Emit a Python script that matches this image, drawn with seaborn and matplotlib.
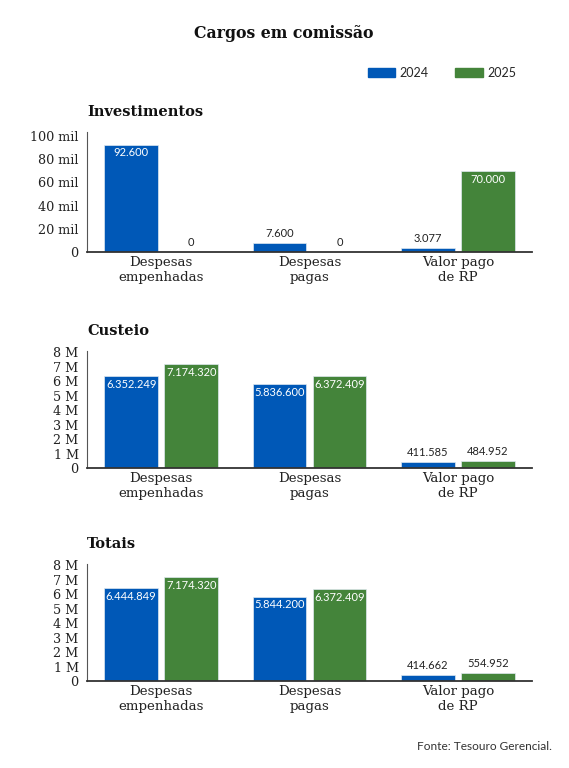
import matplotlib
matplotlib.use("Agg")
import matplotlib.pyplot as plt
from matplotlib.patches import Patch
from matplotlib.ticker import FixedLocator, FixedFormatter
import seaborn as sns
import pandas as pd

# ---------------- data ----------------
categories = ["Despesas\nempenhadas", "Despesas\npagas", "Valor pago\nde RP"]
years = ["2024", "2025"]

invest_2024 = [92600, 7600, 3077]
invest_2025 = [0, 0, 70000]
custeio_2024 = [6352249, 5836600, 411585]
custeio_2025 = [7174320, 6372409, 484952]
totais_2024 = [6444849, 5844200, 414662]
totais_2025 = [7174320, 6372409, 554952]

invest_ticks = [0, 20000, 40000, 60000, 80000, 100000]
invest_ticklabels = ["0", "20 mil", "40 mil", "60 mil", "80 mil", "100 mil"]
m_ticks = [0, 1e6, 2e6, 3e6, 4e6, 5e6, 6e6, 7e6, 8e6]
m_ticklabels = ["0", "1 M", "2 M", "3 M", "4 M", "5 M", "6 M", "7 M", "8 M"]

title = "Cargos em comissão"
panel_titles = ["Investimentos", "Custeio", "Totais"]
source = "Fonte: Tesouro Gerencial."

BLUE = "#0058B7"
GREEN = "#44843A"
DARK = "#222222"

sns.set_theme(style="white")
plt.rcParams["font.family"] = ["DejaVu Serif"]

W, H = 569, 768
fig = plt.figure(figsize=(W / 100, H / 100), dpi=100)
fig.patch.set_facecolor("white")


def fmt(v):
    return f"{int(v):,}".replace(",", ".")


def px_axes(left, top, right, bottom):
    return fig.add_axes([left / W, 1 - bottom / H, (right - left) / W, (bottom - top) / H])


panels = [
    (invest_2024, invest_2025, invest_ticks, invest_ticklabels, 103500, 132, 252),
    (custeio_2024, custeio_2025, m_ticks, m_ticklabels, 8.1e6, 351, 468),
    (totais_2024, totais_2025, m_ticks, m_ticklabels, 8.1e6, 564, 681),
]

for (v24, v25, ticks, tlabels, ymax, top, bottom), ptitle in zip(panels, panel_titles):
    ax = px_axes(87, top, 532, bottom)
    df = pd.DataFrame({
        "categoria": categories * 2,
        "ano": [years[0]] * 3 + [years[1]] * 3,
        "valor": list(v24) + list(v25),
    })
    sns.barplot(data=df, x="categoria", y="valor", hue="ano", order=categories,
                hue_order=years, palette=[BLUE, GREEN], width=0.81, gap=0.11,
                legend=False, ax=ax, edgecolor="#dfe8f0", linewidth=0.5, saturation=1)
    ax.set_xlim(-0.5, 2.5)
    ax.set_ylim(0, ymax)
    ax.yaxis.set_major_locator(FixedLocator(ticks))
    ax.yaxis.set_major_formatter(FixedFormatter(tlabels))
    ax.set_xlabel("")
    ax.set_ylabel("")
    for s in ["top", "right"]:
        ax.spines[s].set_visible(False)
    ax.spines["left"].set_color("#555555")
    ax.spines["left"].set_linewidth(0.8)
    ax.spines["bottom"].set_color("#333333")
    ax.spines["bottom"].set_linewidth(1.3)
    ax.tick_params(axis="y", direction="in", length=4, width=0.8, color="#555555",
                   labelsize=9.2, labelcolor=DARK, pad=6)
    ax.tick_params(axis="x", length=0, labelsize=9.6, labelcolor=DARK, pad=3)
    for lab in ax.get_xticklabels():
        lab.set_linespacing(1.2)
    ax.set_facecolor("white")
    ax.grid(False)

    for container, vals in zip(ax.containers, [v24, v25]):
        for bar, v in zip(container, vals):
            cx = bar.get_x() + bar.get_width() / 2
            h = bar.get_height()
            if v > 0.3 * ymax:
                ax.annotate(fmt(v), (cx, h), xytext=(0, -6), textcoords="offset points",
                            ha="center", va="center", color="white", fontsize=8,
                            family=["Lato", "DejaVu Sans"])
            else:
                ax.annotate(fmt(v), (cx, h), xytext=(0, 7), textcoords="offset points",
                            ha="center", va="center", color=DARK, fontsize=8,
                            family=["Lato", "DejaVu Sans"])

    fig.text(87 / W, 1 - (top - 20) / H, ptitle, ha="left", va="center",
             fontsize=10.5, fontweight="bold", color="#111111")

fig.text(284 / W, 1 - 34 / H, title, ha="center", va="center",
         fontsize=11.3, fontweight="bold", color="#111111")

handles = [Patch(facecolor=BLUE, edgecolor=BLUE), Patch(facecolor=GREEN, edgecolor=GREEN)]
fig.legend(handles, years, loc="center", bbox_to_anchor=(442 / W, 1 - 73 / H), ncol=2,
           frameon=False, handlelength=2.2, handleheight=0.75, handletextpad=0.35,
           columnspacing=2.1, prop={"family": ["Lato", "DejaVu Sans"], "size": 9})

fig.text(552 / W, 1 - 747 / H, source, ha="right", va="center", fontsize=8.6,
         color="#333333", family=["Lato", "DejaVu Sans"])

fig.savefig("out.png", dpi=100, facecolor="white")
